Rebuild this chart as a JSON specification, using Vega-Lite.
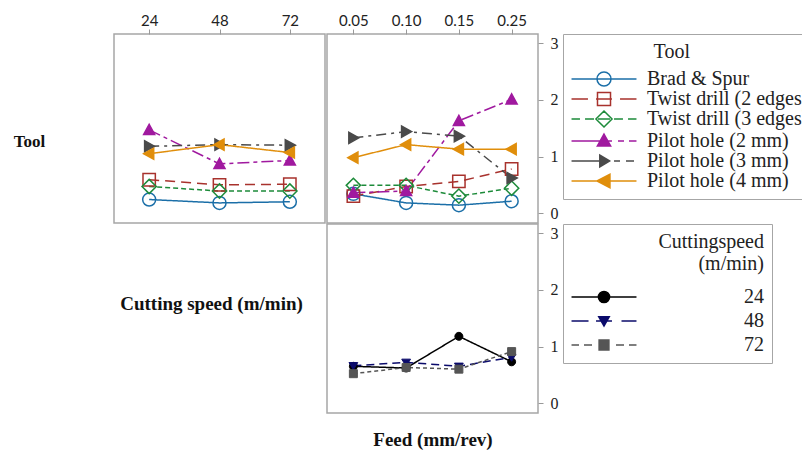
{
  "$schema": "https://vega.github.io/schema/vega-lite/v6.json",
  "background": "white",
  "padding": {"left": 12, "top": 12, "right": 0, "bottom": 5},
  "datasets": {
    "tool_speed": [
      {"Tool": "Brad & Spur", "Speed": "24", "V": 0.24},
      {"Tool": "Brad & Spur", "Speed": "48", "V": 0.18},
      {"Tool": "Brad & Spur", "Speed": "72", "V": 0.2},
      {"Tool": "Twist drill (2 edges)", "Speed": "24", "V": 0.59},
      {"Tool": "Twist drill (2 edges)", "Speed": "48", "V": 0.5},
      {"Tool": "Twist drill (2 edges)", "Speed": "72", "V": 0.51},
      {"Tool": "Twist drill (3 edges)", "Speed": "24", "V": 0.47},
      {"Tool": "Twist drill (3 edges)", "Speed": "48", "V": 0.39},
      {"Tool": "Twist drill (3 edges)", "Speed": "72", "V": 0.39},
      {"Tool": "Pilot hole (2 mm)", "Speed": "24", "V": 1.47},
      {"Tool": "Pilot hole (2 mm)", "Speed": "48", "V": 0.87},
      {"Tool": "Pilot hole (2 mm)", "Speed": "72", "V": 0.93},
      {"Tool": "Pilot hole (3 mm)", "Speed": "24", "V": 1.18},
      {"Tool": "Pilot hole (3 mm)", "Speed": "48", "V": 1.21},
      {"Tool": "Pilot hole (3 mm)", "Speed": "72", "V": 1.2},
      {"Tool": "Pilot hole (4 mm)", "Speed": "24", "V": 1.05},
      {"Tool": "Pilot hole (4 mm)", "Speed": "48", "V": 1.21},
      {"Tool": "Pilot hole (4 mm)", "Speed": "72", "V": 1.07}
    ],
    "tool_feed": [
      {"Tool": "Brad & Spur", "Feed": "0.05", "V": 0.34},
      {"Tool": "Brad & Spur", "Feed": "0.10", "V": 0.18},
      {"Tool": "Brad & Spur", "Feed": "0.15", "V": 0.14},
      {"Tool": "Brad & Spur", "Feed": "0.25", "V": 0.21},
      {"Tool": "Twist drill (2 edges)", "Feed": "0.05", "V": 0.3},
      {"Tool": "Twist drill (2 edges)", "Feed": "0.10", "V": 0.47},
      {"Tool": "Twist drill (2 edges)", "Feed": "0.15", "V": 0.56},
      {"Tool": "Twist drill (2 edges)", "Feed": "0.25", "V": 0.78},
      {"Tool": "Twist drill (3 edges)", "Feed": "0.05", "V": 0.49},
      {"Tool": "Twist drill (3 edges)", "Feed": "0.10", "V": 0.49},
      {"Tool": "Twist drill (3 edges)", "Feed": "0.15", "V": 0.3},
      {"Tool": "Twist drill (3 edges)", "Feed": "0.25", "V": 0.44},
      {"Tool": "Pilot hole (2 mm)", "Feed": "0.05", "V": 0.36},
      {"Tool": "Pilot hole (2 mm)", "Feed": "0.10", "V": 0.39},
      {"Tool": "Pilot hole (2 mm)", "Feed": "0.15", "V": 1.63},
      {"Tool": "Pilot hole (2 mm)", "Feed": "0.25", "V": 2.01},
      {"Tool": "Pilot hole (3 mm)", "Feed": "0.05", "V": 1.33},
      {"Tool": "Pilot hole (3 mm)", "Feed": "0.10", "V": 1.44},
      {"Tool": "Pilot hole (3 mm)", "Feed": "0.15", "V": 1.36},
      {"Tool": "Pilot hole (3 mm)", "Feed": "0.25", "V": 0.62},
      {"Tool": "Pilot hole (4 mm)", "Feed": "0.05", "V": 0.98},
      {"Tool": "Pilot hole (4 mm)", "Feed": "0.10", "V": 1.21},
      {"Tool": "Pilot hole (4 mm)", "Feed": "0.15", "V": 1.13},
      {"Tool": "Pilot hole (4 mm)", "Feed": "0.25", "V": 1.13}
    ],
    "speed_feed": [
      {"Speed": "24", "Feed": "0.05", "V": 0.65},
      {"Speed": "24", "Feed": "0.10", "V": 0.62},
      {"Speed": "24", "Feed": "0.15", "V": 1.18},
      {"Speed": "24", "Feed": "0.25", "V": 0.73},
      {"Speed": "48", "Feed": "0.05", "V": 0.66},
      {"Speed": "48", "Feed": "0.10", "V": 0.72},
      {"Speed": "48", "Feed": "0.15", "V": 0.65},
      {"Speed": "48", "Feed": "0.25", "V": 0.81},
      {"Speed": "72", "Feed": "0.05", "V": 0.52},
      {"Speed": "72", "Feed": "0.10", "V": 0.63},
      {"Speed": "72", "Feed": "0.15", "V": 0.6},
      {"Speed": "72", "Feed": "0.25", "V": 0.91}
    ]
  },
  "columns": 2,
  "spacing": {"row": -4, "column": 0},
  "resolve": {
    "scale": {"x": "independent", "y": "independent", "stroke": "independent", "fill": "independent", "shape": "independent", "strokeDash": "independent"},
    "legend": {"stroke": "independent", "fill": "independent", "shape": "independent", "strokeDash": "independent"}
  },
  "concat": [
    {
      "width": 211,
      "height": 189,
      "data": {"name": "tool_speed"},
      "encoding": {
        "x": {"field": "Speed", "type": "ordinal", "sort": null, "scale": {"type": "point", "padding": 0.5},
          "axis": {"orient": "top", "title": null, "labelAngle": 0, "domain": false, "grid": false, "tickSize": 5, "tickColor": "#999999", "labelPadding": 1, "labelFont": "Lato", "labelFontSize": 15, "labelColor": "#222222"}},
        "y": {"field": "V", "type": "quantitative", "scale": {"domain": [-0.175, 3.165], "nice": false, "zero": false},
          "axis": {"orient": "left", "labels": false, "ticks": false, "domain": false, "grid": false, "title": "Tool", "titleAngle": 0, "titleX": -85, "titleY": 107, "titleAlign": "center", "titleBaseline": "middle", "titleFont": "Liberation Serif", "titleFontSize": 17, "titleFontWeight": "bold", "titleColor": "#111111"}},
        "stroke": {"field": "Tool", "type": "nominal", "legend": null,
          "scale": {"domain": ["Brad & Spur", "Twist drill (2 edges)", "Twist drill (3 edges)", "Pilot hole (2 mm)", "Pilot hole (3 mm)", "Pilot hole (4 mm)"],
            "range": ["#1b6fa8", "#a8322d", "#1d8b3a", "#a0199f", "#4a4a4a", "#e08e0b"]}}
      },
      "layer": [
        {
          "mark": {"type": "line", "strokeWidth": 1.5},
          "encoding": {
            "strokeDash": {"field": "Tool", "type": "nominal", "legend": null,
              "scale": {"domain": ["Brad & Spur", "Twist drill (2 edges)", "Twist drill (3 edges)", "Pilot hole (2 mm)", "Pilot hole (3 mm)", "Pilot hole (4 mm)"],
                "range": [[1, 0], [10, 6], [5, 3], [12, 4, 4, 4], [10, 5, 3, 5], [1, 0]]}}
          }
        },
        {
          "mark": {"type": "point", "size": 169, "strokeWidth": 1.5, "opacity": 1},
          "encoding": {
            "shape": {"field": "Tool", "type": "nominal", "legend": null,
              "scale": {"domain": ["Brad & Spur", "Twist drill (2 edges)", "Twist drill (3 edges)", "Pilot hole (2 mm)", "Pilot hole (3 mm)", "Pilot hole (4 mm)"],
                "range": ["M1,0A1,1,0,1,1,-1,0A1,1,0,1,1,1,0Z", "M-0.95,-0.95H0.95V0.95H-0.95Z", "M0,-1.1L1.1,0L0,1.1L-1.1,0Z", "M0,-0.85L0.85,0.7L-0.85,0.7Z", "M0.85,0L-0.7,-0.85L-0.7,0.85Z", "M-0.85,0L0.7,-0.85L0.7,0.85Z"]}},
            "fill": {"field": "Tool", "type": "nominal", "legend": null,
              "scale": {"domain": ["Brad & Spur", "Twist drill (2 edges)", "Twist drill (3 edges)", "Pilot hole (2 mm)", "Pilot hole (3 mm)", "Pilot hole (4 mm)"],
                "range": ["transparent", "transparent", "transparent", "#a0199f", "#4a4a4a", "#e08e0b"]}}
          }
        }
      ]
    },
    {
      "width": 211,
      "height": 189,
      "data": {"name": "tool_feed"},
      "encoding": {
        "x": {"field": "Feed", "type": "ordinal", "sort": null, "scale": {"type": "point", "padding": 0.5},
          "axis": {"orient": "top", "title": null, "labelAngle": 0, "domain": false, "grid": false, "tickSize": 5, "tickColor": "#999999", "labelPadding": 1, "labelFont": "Lato", "labelFontSize": 15, "labelColor": "#222222"}},
        "y": {"field": "V", "type": "quantitative", "scale": {"domain": [-0.175, 3.165], "nice": false, "zero": false},
          "axis": {"orient": "right", "title": null, "values": [0, 1, 2, 3], "domain": false, "grid": false, "tickSize": 5, "tickColor": "#999999", "labelPadding": 7, "labelFont": "Liberation Serif", "labelFontSize": 16, "labelColor": "#222222"}}
      },
      "layer": [
        {
          "mark": {"type": "line", "strokeWidth": 1.5},
          "encoding": {
            "stroke": {"field": "Tool", "type": "nominal", "legend": null,
              "scale": {"domain": ["Brad & Spur", "Twist drill (2 edges)", "Twist drill (3 edges)", "Pilot hole (2 mm)", "Pilot hole (3 mm)", "Pilot hole (4 mm)"],
                "range": ["#1b6fa8", "#a8322d", "#1d8b3a", "#a0199f", "#4a4a4a", "#e08e0b"]}},
            "strokeDash": {"field": "Tool", "type": "nominal", "legend": null,
              "scale": {"domain": ["Brad & Spur", "Twist drill (2 edges)", "Twist drill (3 edges)", "Pilot hole (2 mm)", "Pilot hole (3 mm)", "Pilot hole (4 mm)"],
                "range": [[1, 0], [10, 6], [5, 3], [12, 4, 4, 4], [10, 5, 3, 5], [1, 0]]}}
          }
        },
        {
          "mark": {"type": "point", "size": 169, "strokeWidth": 1.5, "opacity": 1},
          "encoding": {
            "stroke": {"field": "Tool", "type": "nominal", "legend": null,
              "scale": {"domain": ["Brad & Spur", "Twist drill (2 edges)", "Twist drill (3 edges)", "Pilot hole (2 mm)", "Pilot hole (3 mm)", "Pilot hole (4 mm)"],
                "range": ["#1b6fa8", "#a8322d", "#1d8b3a", "#a0199f", "#4a4a4a", "#e08e0b"]}},
            "shape": {"field": "Tool", "type": "nominal", "legend": null,
              "scale": {"domain": ["Brad & Spur", "Twist drill (2 edges)", "Twist drill (3 edges)", "Pilot hole (2 mm)", "Pilot hole (3 mm)", "Pilot hole (4 mm)"],
                "range": ["M1,0A1,1,0,1,1,-1,0A1,1,0,1,1,1,0Z", "M-0.95,-0.95H0.95V0.95H-0.95Z", "M0,-1.1L1.1,0L0,1.1L-1.1,0Z", "M0,-0.85L0.85,0.7L-0.85,0.7Z", "M0.85,0L-0.7,-0.85L-0.7,0.85Z", "M-0.85,0L0.7,-0.85L0.7,0.85Z"]}},
            "fill": {"field": "Tool", "type": "nominal", "legend": null,
              "scale": {"domain": ["Brad & Spur", "Twist drill (2 edges)", "Twist drill (3 edges)", "Pilot hole (2 mm)", "Pilot hole (3 mm)", "Pilot hole (4 mm)"],
                "range": ["transparent", "transparent", "transparent", "#a0199f", "#4a4a4a", "#e08e0b"]}}
          }
        },
        {
          "transform": [{"filter": "false"}],
          "mark": {"type": "point", "strokeWidth": 1.5, "opacity": 1, "fillOpacity": 1, "strokeOpacity": 1},
          "encoding": {
            "stroke": {"field": "Tool", "type": "nominal",
              "scale": {"domain": ["Brad & Spur", "Twist drill (2 edges)", "Twist drill (3 edges)", "Pilot hole (2 mm)", "Pilot hole (3 mm)", "Pilot hole (4 mm)"],
                "range": ["#1b6fa8", "#a8322d", "#1d8b3a", "#a0199f", "#4a4a4a", "#e08e0b"]},
              "legend": {
                "title": "Tool", "orient": "right", "offset": 5, "padding": 8, "strokeColor": "#a6a6a6",
                "titleFont": "Liberation Serif", "titleFontSize": 20, "titleFontWeight": "normal", "titleColor": "#222222", "titlePadding": 7, "titleAnchor": "middle", "titleAlign": "right",
                "labelFont": "Liberation Serif", "labelFontSize": 20, "labelColor": "#222222", "labelLimit": 400, "labelOffset": 33,
                "symbolOffset": 23, "symbolSize": 196, "symbolStrokeWidth": 1.5, "symbolOpacity": 1, "rowPadding": -3.4
              }},
            "shape": {"field": "Tool", "type": "nominal", "legend": {"title": "Tool"},
              "scale": {"domain": ["Brad & Spur", "Twist drill (2 edges)", "Twist drill (3 edges)", "Pilot hole (2 mm)", "Pilot hole (3 mm)", "Pilot hole (4 mm)"],
                "range": [
                  "M-4.64,0H4.64M1,0A1,1,0,1,1,-1,0A1,1,0,1,1,1,0Z",
                  "M-4.64,0H-2.29M-1.14,0H1.14M2.29,0H4.64M-0.93,-0.93H0.93V0.93H-0.93Z",
                  "M-4.64,0H-3.43M-2.71,0H-1.43M-0.86,0H0.86M1.43,0H2.71M3.43,0H4.64M0,-1.15L1.15,0L0,1.15L-1.15,0Z",
                  "M-4.64,0H1.14M2,0H2.86M3.57,0H4.64M0,-1L0.95,0.7L-0.95,0.7Z",
                  "M-4.64,0H-0.71M1.43,0H2.29M3.14,0H4.29M0.8,0L-0.6,-0.85L-0.6,0.85Z",
                  "M-4.64,0H4.64M-1,0L0.85,-0.95L0.85,0.95Z"]}},
            "fill": {"field": "Tool", "type": "nominal", "legend": {"title": "Tool"},
              "scale": {"domain": ["Brad & Spur", "Twist drill (2 edges)", "Twist drill (3 edges)", "Pilot hole (2 mm)", "Pilot hole (3 mm)", "Pilot hole (4 mm)"],
                "range": ["transparent", "transparent", "transparent", "#a0199f", "#4a4a4a", "#e08e0b"]}}
          }
        }
      ],
      "resolve": {"scale": {"stroke": "independent", "shape": "independent", "fill": "independent", "strokeDash": "independent"}}
    },
    {
      "width": 211,
      "height": 189,
      "view": {"stroke": null},
      "data": {"values": [{"label": "Cutting speed (m/min)"}]},
      "mark": {"type": "text", "font": "Liberation Serif", "fontSize": 19, "fontWeight": "bold", "color": "#111111", "dx": -8, "dy": -15},
      "encoding": {"text": {"field": "label", "type": "nominal"}}
    },
    {
      "width": 211,
      "height": 189,
      "data": {"name": "speed_feed"},
      "encoding": {
        "x": {"field": "Feed", "type": "ordinal", "sort": null, "scale": {"type": "point", "padding": 0.5},
          "axis": {"orient": "bottom", "labels": false, "ticks": false, "domain": false, "grid": false, "title": "Feed (mm/rev)", "titlePadding": 17, "titleFont": "Liberation Serif", "titleFontSize": 19, "titleFontWeight": "bold", "titleColor": "#111111"}},
        "y": {"field": "V", "type": "quantitative", "scale": {"domain": [-0.175, 3.165], "nice": false, "zero": false},
          "axis": {"orient": "right", "title": null, "values": [0, 1, 2, 3], "domain": false, "grid": false, "tickSize": 5, "tickColor": "#999999", "labelPadding": 7, "labelFont": "Liberation Serif", "labelFontSize": 16, "labelColor": "#222222"}}
      },
      "layer": [
        {
          "mark": {"type": "line", "strokeWidth": 1.5},
          "encoding": {
            "stroke": {"field": "Speed", "type": "nominal", "legend": null,
              "scale": {"domain": ["24", "48", "72"], "range": ["#000000", "#0b0b6b", "#555555"]}},
            "strokeDash": {"field": "Speed", "type": "nominal", "legend": null,
              "scale": {"domain": ["24", "48", "72"], "range": [[1, 0], [8, 5], [4, 3]]}}
          }
        },
        {
          "mark": {"type": "point", "size": 64, "strokeWidth": 1, "opacity": 1},
          "encoding": {
            "stroke": {"field": "Speed", "type": "nominal", "legend": null,
              "scale": {"domain": ["24", "48", "72"], "range": ["#000000", "#0b0b6b", "#555555"]}},
            "shape": {"field": "Speed", "type": "nominal", "legend": null,
              "scale": {"domain": ["24", "48", "72"], "range": ["M1,0A1,1,0,1,1,-1,0A1,1,0,1,1,1,0Z", "M-1.1,-0.8L1.1,-0.8L0,1Z", "M-1,-1H1V1H-1Z"]}},
            "fill": {"field": "Speed", "type": "nominal", "legend": null,
              "scale": {"domain": ["24", "48", "72"], "range": ["#000000", "#0b0b6b", "#555555"]}}
          }
        },
        {
          "transform": [{"filter": "false"}],
          "mark": {"type": "point", "strokeWidth": 1.5, "opacity": 1, "fillOpacity": 1, "strokeOpacity": 1},
          "encoding": {
            "stroke": {"field": "Speed", "type": "nominal",
              "scale": {"domain": ["24", "48", "72"], "range": ["#000000", "#0b0b6b", "#555555"]},
              "legend": {
                "title": ["Cuttingspeed", "(m/min)"], "orient": "right", "offset": 5, "padding": 8, "strokeColor": "#a6a6a6",
                "titleFont": "Liberation Serif", "titleFontSize": 20, "titleFontWeight": "normal", "titleColor": "#222222", "titlePadding": 13, "titleAlign": "right", "titleAnchor": "end",
                "labelFont": "Liberation Serif", "labelFontSize": 20, "labelColor": "#222222", "labelLimit": 400, "labelOffset": 130,
                "symbolOffset": 23, "symbolSize": 196, "symbolStrokeWidth": 1.5, "symbolOpacity": 1, "rowPadding": 4
              }},
            "shape": {"field": "Speed", "type": "nominal", "legend": {"title": ["Cuttingspeed", "(m/min)"]},
              "scale": {"domain": ["24", "48", "72"], "range": [
                "M-4.64,0H4.64M0.8,0A0.8,0.8,0,1,1,-0.8,0A0.8,0.8,0,1,1,0.8,0Z",
                "M-4.64,0H-2.21M-1.14,0H1.14M2.5,0H4.64M-0.75,-0.6L0.75,-0.6L0,0.7Z",
                "M-4.64,0H-3.57M-2.86,0H-1.71M-0.71,0H0.71M1.71,0H2.86M3.57,0H4.64M-0.7,-0.7H0.7V0.7H-0.7Z"]}},
            "fill": {"field": "Speed", "type": "nominal", "legend": {"title": ["Cuttingspeed", "(m/min)"]},
              "scale": {"domain": ["24", "48", "72"], "range": ["#000000", "#0b0b6b", "#555555"]}}
          }
        }
      ],
      "resolve": {"scale": {"stroke": "independent", "shape": "independent", "fill": "independent", "strokeDash": "independent"}}
    }
  ],
  "config": {
    "view": {"stroke": "#a6a6a6", "strokeWidth": 1.5},
    "font": "Liberation Serif"
  }
}
